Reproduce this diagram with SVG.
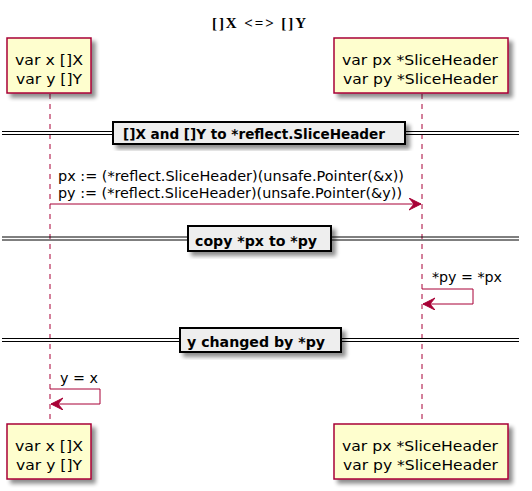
<svg xmlns="http://www.w3.org/2000/svg" width="532" height="491" viewBox="0 0 532 491">
<style>
.bg{fill:#ffffff}
.part{fill:#FEFECE;stroke:#A80036;stroke-width:1.5}
.ptxt{font-family:"DejaVu Sans",sans-serif;font-size:14.5px;fill:#000}
.life{stroke:#A80036;stroke-width:1;stroke-dasharray:5,5;fill:none}
.msg{stroke:#A80036;stroke-width:1;fill:none}
.mtxt{font-family:"DejaVu Sans",sans-serif;font-size:13.5px;fill:#000}
.dline{stroke:#000;stroke-width:1}
.dbox{fill:#EEEEEE;stroke:#000;stroke-width:2}
.dtxt{font-family:"DejaVu Sans",sans-serif;font-weight:bold;font-size:14px;fill:#000}
.title{font-family:"Liberation Serif",serif;font-weight:bold;font-size:15px;fill:#000}
</style>
<defs>
<filter id="sh" x="-20%" y="-20%" width="150%" height="150%">
<feGaussianBlur in="SourceAlpha" stdDeviation="2"/>
<feOffset dx="4" dy="4" result="b"/>
<feComponentTransfer><feFuncA type="linear" slope="0.45"/></feComponentTransfer>
<feMerge><feMergeNode/><feMergeNode in="SourceGraphic"/></feMerge>
</filter>
<marker id="ah" markerUnits="userSpaceOnUse" markerWidth="14" markerHeight="14" refX="12" refY="6" orient="auto">
<path d="M0,0 L12,6 L0,12 L5,6 Z" fill="#A80036" stroke="#A80036" stroke-width="1"/>
</marker>
</defs>
<rect class="bg" x="0" y="0" width="532" height="491"/>
<text class="title" x="212" y="28" textLength="94" lengthAdjust="spacing">[]X <tspan>&lt;=&gt;</tspan> []Y</text>

<g id="lifelines">
<line class="life" x1="50" y1="94" x2="50" y2="424"/>
<line class="life" x1="422" y1="94" x2="422" y2="424"/>
</g>

<g id="dividers">
<g id="div1">
<line class="dline" x1="2" y1="131.5" x2="519" y2="131.5"/>
<line class="dline" x1="2" y1="134.5" x2="519" y2="134.5"/>
<rect class="dbox" x="113" y="122" width="292" height="22" filter="url(#sh)"/>
<text class="dtxt" x="123" y="139" textLength="262" lengthAdjust="spacingAndGlyphs">[]X and []Y to *reflect.SliceHeader</text>
</g>
<g id="div2">
<line class="dline" x1="2" y1="237" x2="519" y2="237"/>
<line class="dline" x1="2" y1="240" x2="519" y2="240"/>
<rect class="dbox" x="188" y="226" width="143" height="25" filter="url(#sh)"/>
<text class="dtxt" x="195" y="245.5" textLength="122" lengthAdjust="spacingAndGlyphs">copy *px to *py</text>
</g>
<g id="div3">
<line class="dline" x1="2" y1="338.5" x2="519" y2="338.5"/>
<line class="dline" x1="2" y1="341.5" x2="519" y2="341.5"/>
<rect class="dbox" x="180" y="328" width="161" height="24" filter="url(#sh)"/>
<text class="dtxt" x="187" y="346.5" textLength="138" lengthAdjust="spacingAndGlyphs">y changed by *py</text>
</g>
</g>

<g id="connectors">
<line class="msg" x1="50" y1="204" x2="421" y2="204" marker-end="url(#ah)"/>
<text class="mtxt" x="58" y="180.5" textLength="346" lengthAdjust="spacingAndGlyphs">px := (*reflect.SliceHeader)(unsafe.Pointer(&amp;x))</text>
<text class="mtxt" x="58" y="198" textLength="344" lengthAdjust="spacingAndGlyphs">py := (*reflect.SliceHeader)(unsafe.Pointer(&amp;y))</text>
<polyline class="msg" points="422,289 473,289 473,304 423,304" marker-end="url(#ah)"/>
<text class="mtxt" x="432" y="282" textLength="70" lengthAdjust="spacingAndGlyphs">*py = *px</text>
<polyline class="msg" points="50,389 100,389 100,404 51,404" marker-end="url(#ah)"/>
<text class="mtxt" x="60" y="383" textLength="38" lengthAdjust="spacingAndGlyphs">y = x</text>
</g>

<g id="xy-top">
<rect class="part" x="7" y="38" width="84" height="55" filter="url(#sh)"/>
<text class="ptxt" x="15" y="65" textLength="68" lengthAdjust="spacingAndGlyphs">var x []X</text>
<text class="ptxt" x="16" y="84" textLength="66" lengthAdjust="spacingAndGlyphs">var y []Y</text>
</g>
<g id="pxpy-top">
<rect class="part" x="334" y="38" width="174" height="55" filter="url(#sh)"/>
<text class="ptxt" x="342" y="65" textLength="156" lengthAdjust="spacingAndGlyphs">var px *SliceHeader</text>
<text class="ptxt" x="343" y="84" textLength="155" lengthAdjust="spacingAndGlyphs">var py *SliceHeader</text>
</g>
<g id="xy-bottom">
<rect class="part" x="7" y="424" width="84" height="55" filter="url(#sh)"/>
<text class="ptxt" x="15" y="451" textLength="68" lengthAdjust="spacingAndGlyphs">var x []X</text>
<text class="ptxt" x="16" y="470" textLength="66" lengthAdjust="spacingAndGlyphs">var y []Y</text>
</g>
<g id="pxpy-bottom">
<rect class="part" x="334" y="424" width="174" height="55" filter="url(#sh)"/>
<text class="ptxt" x="342" y="451" textLength="156" lengthAdjust="spacingAndGlyphs">var px *SliceHeader</text>
<text class="ptxt" x="343" y="470" textLength="155" lengthAdjust="spacingAndGlyphs">var py *SliceHeader</text>
</g>
</svg>
